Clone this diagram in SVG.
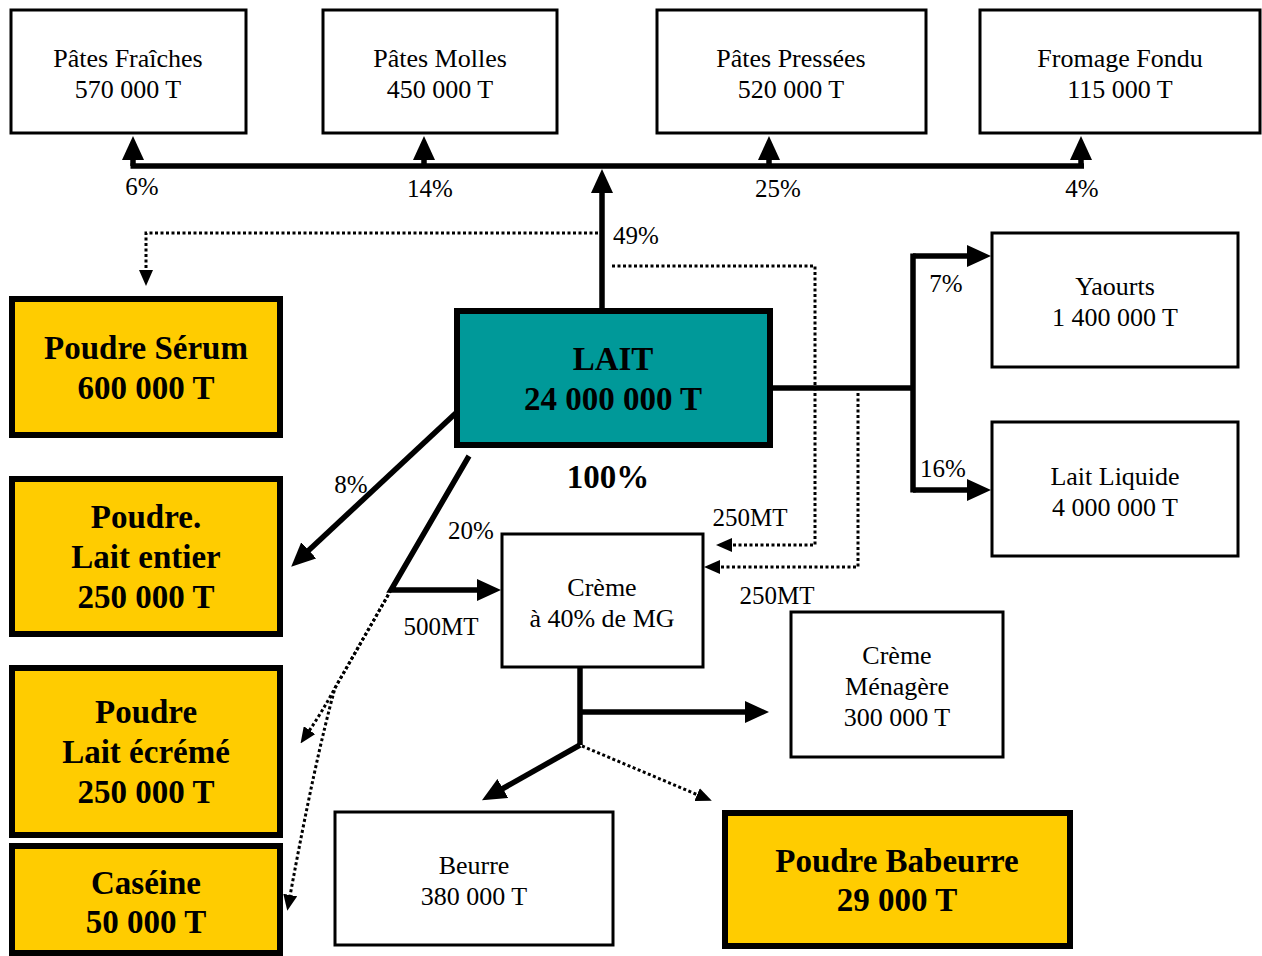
<svg xmlns="http://www.w3.org/2000/svg" width="1262" height="956" viewBox="0 0 1262 956">
<style>
.box{fill:#fff;stroke:#000;stroke-width:3}
.ybox{fill:#FFCC00;stroke:#000;stroke-width:6}
.tbox{fill:#009999;stroke:#000;stroke-width:6}
text{font-family:"Liberation Serif","Times New Roman",serif;fill:#000;text-anchor:middle}
.t{font-size:26px}
.b{font-size:33px;font-weight:bold}
.lbl{font-size:25px}
.ln{fill:none;stroke:#000;stroke-width:5.5;stroke-linejoin:miter}
.dt{fill:none;stroke:#000;stroke-width:3;stroke-dasharray:3 2.5}
</style>
<defs>
<marker id="ah" viewBox="0 0 24 22" refX="1" refY="11" markerWidth="24" markerHeight="22" markerUnits="userSpaceOnUse" orient="auto">
<path d="M0,0 L24,11 L0,22 z" fill="#000"/>
</marker>
<marker id="dh" viewBox="0 0 16 14" refX="1" refY="7" markerWidth="16" markerHeight="14" markerUnits="userSpaceOnUse" orient="auto">
<path d="M0,0 L16,7 L0,14 z" fill="#000"/>
</marker>
</defs>

<g id="connectors">
<path class="ln" d="M130.5,166 H1084"/>
<path class="ln" d="M133,166 V159" marker-end="url(#ah)"/>
<path class="ln" d="M424,166 V159" marker-end="url(#ah)"/>
<path class="ln" d="M769,166 V159" marker-end="url(#ah)"/>
<path class="ln" d="M1081,166 V159" marker-end="url(#ah)"/>
<path class="ln" d="M602,310 V192" marker-end="url(#ah)"/>
<path class="ln" d="M770,388 H913"/>
<path class="ln" d="M913,253.5 V492.5"/>
<path class="ln" d="M913,256 H968" marker-end="url(#ah)"/>
<path class="ln" d="M913,490 H968" marker-end="url(#ah)"/>
<path class="ln" d="M457,412 L308,551" marker-end="url(#ah)"/>
<path class="ln" d="M469,456 L391,590 H478" marker-end="url(#ah)"/>
<path class="ln" d="M580,667 V745"/>
<path class="ln" d="M580,712 H746" marker-end="url(#ah)"/>
<path class="ln" d="M580,745 L502,789" marker-end="url(#ah)"/>
<path class="dt" d="M598,233 H146 V271" marker-end="url(#dh)"/>
<path class="dt" d="M612,266 H815 V545 H731" marker-end="url(#dh)"/>
<path class="dt" d="M858,393 V567 H719" marker-end="url(#dh)"/>
<path class="dt" d="M582,746 L698,795" marker-end="url(#dh)"/>
<path class="dt" d="M391,590 L335,688 Q322,712 309,731" marker-end="url(#dh)"/>
<path class="dt" d="M391,590 L335,688 Q315,760 290,896" marker-end="url(#dh)"/>
<g id="labels">
<text class="lbl" x="142" y="195">6%</text>
<text class="lbl" x="430" y="197">14%</text>
<text class="lbl" x="778" y="197">25%</text>
<text class="lbl" x="1082" y="197">4%</text>
<text class="lbl" x="636" y="244">49%</text>
<text class="lbl" x="946" y="292">7%</text>
<text class="lbl" x="943" y="477">16%</text>
<text class="lbl" x="351" y="493">8%</text>
<text class="lbl" x="471" y="539">20%</text>
<text class="lbl" x="441" y="635">500MT</text>
<text class="lbl" x="750" y="526">250MT</text>
<text class="lbl" x="777" y="604">250MT</text>
</g>
</g>

<g id="pates-fraiches"><rect class="box" x="11" y="10" width="235" height="123"/><text class="t" x="128" y="67">Pâtes Fraîches</text><text class="t" x="128" y="98">570 000 T</text></g>
<g id="pates-molles"><rect class="box" x="323" y="10" width="234" height="123"/><text class="t" x="440" y="67">Pâtes Molles</text><text class="t" x="440" y="98">450 000 T</text></g>
<g id="pates-pressees"><rect class="box" x="657" y="10" width="269" height="123"/><text class="t" x="791" y="67">Pâtes Pressées</text><text class="t" x="791" y="98">520 000 T</text></g>
<g id="fromage-fondu"><rect class="box" x="980" y="10" width="280" height="123"/><text class="t" x="1120" y="67">Fromage Fondu</text><text class="t" x="1120" y="98">115 000 T</text></g>

<g id="lait"><rect class="tbox" x="457" y="311" width="313" height="134"/><text class="b" x="613" y="370">LAIT</text><text class="b" x="613" y="410">24 000 000 T</text><text class="b" x="608" y="488">100%</text></g>

<g id="yaourts"><rect class="box" x="992" y="233" width="246" height="134"/><text class="t" x="1115" y="295">Yaourts</text><text class="t" x="1115" y="326">1 400 000 T</text></g>
<g id="lait-liquide"><rect class="box" x="992" y="422" width="246" height="134"/><text class="t" x="1115" y="485">Lait Liquide</text><text class="t" x="1115" y="516">4 000 000 T</text></g>

<g id="poudre-serum"><rect class="ybox" x="12" y="299" width="268" height="136"/><text class="b" x="146" y="359">Poudre Sérum</text><text class="b" x="146" y="399">600 000 T</text></g>
<g id="poudre-lait-entier"><rect class="ybox" x="12" y="479" width="268" height="155"/><text class="b" x="146" y="528">Poudre.</text><text class="b" x="146" y="568">Lait entier</text><text class="b" x="146" y="608">250 000 T</text></g>
<g id="poudre-lait-ecreme"><rect class="ybox" x="12" y="668" width="268" height="167"/><text class="b" x="146" y="723">Poudre</text><text class="b" x="146" y="763">Lait écrémé</text><text class="b" x="146" y="803">250 000 T</text></g>
<g id="caseine"><rect class="ybox" x="12" y="846" width="268" height="107"/><text class="b" x="146" y="894">Caséine</text><text class="b" x="146" y="933">50 000 T</text></g>

<g id="creme"><rect class="box" x="502" y="534" width="201" height="133"/><text class="t" x="602" y="596">Crème</text><text class="t" x="602" y="627">à 40% de MG</text></g>
<g id="creme-menagere"><rect class="box" x="791" y="612" width="212" height="145"/><text class="t" x="897" y="664">Crème</text><text class="t" x="897" y="695">Ménagère</text><text class="t" x="897" y="726">300 000 T</text></g>
<g id="beurre"><rect class="box" x="335" y="812" width="278" height="133"/><text class="t" x="474" y="874">Beurre</text><text class="t" x="474" y="905">380 000 T</text></g>
<g id="poudre-babeurre"><rect class="ybox" x="725" y="813" width="345" height="133"/><text class="b" x="897" y="872">Poudre Babeurre</text><text class="b" x="897" y="911">29 000 T</text></g>
</svg>
